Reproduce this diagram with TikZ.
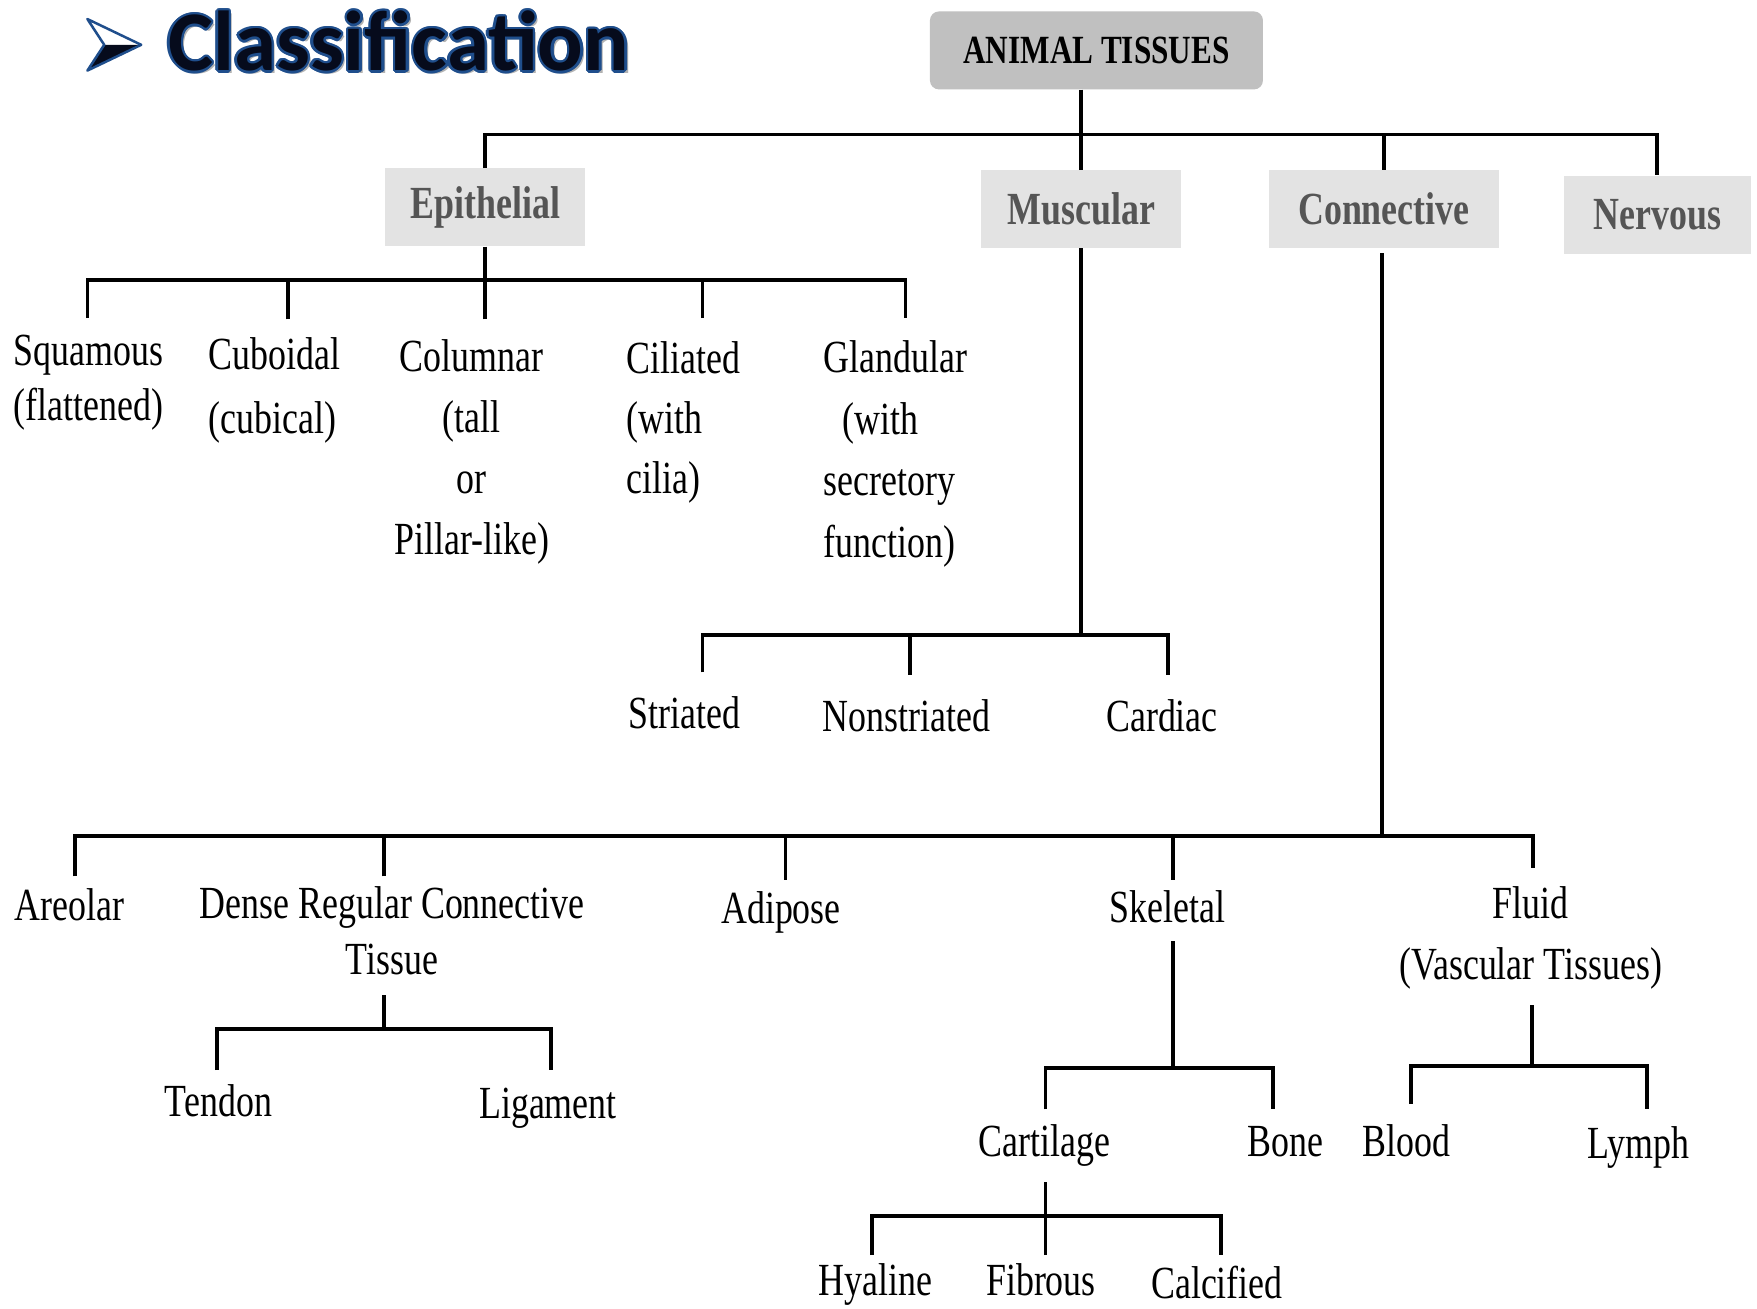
\documentclass[tikz,border=0pt]{standalone}
\usepackage{fontspec}
\newfontfamily\tnr[FakeStretch=0.78]{Liberation Serif}
\newfontfamily\ttlfont{Carlito}
\usetikzlibrary{calc}
\definecolor{boxgray}{HTML}{E3E3E3}
\definecolor{rootgray}{HTML}{C0C0C0}
\definecolor{labgray}{HTML}{555555}
\definecolor{ttlblue}{HTML}{1F4E8C}
\definecolor{ttlfill}{HTML}{060B1C}
\begin{document}
\begin{tikzpicture}[x=1.1205pt,y=-1.1205pt,
  lab/.style={font=\tnr\fontsize{46}{61}\selectfont, inner sep=0pt, anchor=base},
  labl/.style={lab, anchor=base west, align=left},
  catbox/.style={fill=boxgray, minimum width=#1, minimum height=78pt, inner sep=0pt,
    font=\tnr\bfseries\fontsize{46}{55}\selectfont, text=labgray},
  conn/.style={line width=3.8pt, line join=miter},
  ttl/.style={anchor=base west, inner sep=0pt, font=\ttlfont\bfseries\fontsize{85}{90}\selectfont}
  ]
\useasboundingbox (0,0) rectangle (1568,1168);
\fill[white] (0,0) rectangle (1568,1168);

% ---- title ----
\coordinate (tpos) at (150,63);
\node[ttl, text=black!30] at ($(tpos)+(3,3)$) {Classification};
\foreach \a in {0,30,...,330}{
  \node[ttl, text=ttlblue] at ($(tpos)+(\a:2.2)$) {Classification};
}
\node[ttl, text=ttlfill] (title) at (tpos) {Classification};
% arrow bullet
\coordinate (at) at (78,17);
\coordinate (ab) at (78,63);
\coordinate (ap) at (126,40);
\coordinate (an) at (93,40);
\fill[white] (at) -- (ap) -- (an) -- cycle;
\fill[ttlfill] (an) -- (ap) -- (ab) -- cycle;
\draw[ttlblue, line width=2.5pt, line join=round] (at) -- (ap) -- (ab) -- (an) -- cycle;

% ---- boxes ----
\node[fill=rootgray, rounded corners=9pt, minimum width=333pt, minimum height=78pt, inner sep=0pt,
  font=\tnr\bfseries\fontsize{40}{48}\selectfont] (root) at (978.5,45) {ANIMAL TISSUES};
\node[catbox=200pt] (epi) at (433,185) {Epithelial};
\node[catbox=200pt] (mus) at (965,186.5) {Muscular};
\node[catbox=230pt] (con) at (1235,186.5) {Connective};
\node[catbox=187pt] (ner) at (1479,191.5) {Nervous};

% ---- top level connectors ----
\coordinate (j0) at (965,120);
\draw[conn] (root.south -| j0) -- (j0);
\draw[conn] (epi.north) |- (ner.north |- j0) -- (ner.north);
\draw[conn] (mus.north) -- (mus.north |- j0);
\draw[conn] (con.north) -- (con.north |- j0);

% ---- epithelial (base anchor = baseline of last line) ----
\node[labl, font=\tnr\fontsize{46}{55}\selectfont] (sq) at (12,375.6) {Squamous\\(flattened)};
\node[labl, font=\tnr\fontsize{46}{64}\selectfont] (cub) at (186,386.6) {Cuboidal\\(cubical)};
\node[lab, align=center] (col) at (421,494.8) {Columnar\\(tall\\or\\Pillar-like)};
\node[labl, font=\tnr\fontsize{46}{60}\selectfont] (cil) at (559,440.6) {Ciliated\\(with\\cilia)};
\node[labl, font=\tnr\fontsize{46}{61.5}\selectfont] (gla) at (735,497.2) {Glandular\\\hspace*{19pt}(with\\secretory\\function)};
\coordinate (ej) at (433,250);
\coordinate (e1) at (78,284);
\coordinate (e2) at (257,285);
\coordinate (e3) at (433,285);
\coordinate (e4) at (627,284);
\coordinate (e5) at (808,284);
\draw[conn] (epi.south) -- (ej);
\draw[conn] (e1) |- (e5 |- ej) -- (e5);
\foreach \c in {e2,e3,e4} \draw[conn] (\c) -- (\c |- ej);

% ---- muscular ----
\node[lab] (str) at (611,650.5) {Striated};
\node[lab] (nst) at (809,652.5) {Nonstriated};
\node[lab] (car) at (1037,652.5) {Cardiac};
\coordinate (mj) at (965,567);
\coordinate (m1) at (627,600);
\coordinate (m2) at (812,602);
\coordinate (m3) at (1042,602);
\draw[conn] (mus.south) -- (mj);
\draw[conn] (m1) |- (m3 |- mj) -- (m3);
\draw[conn] (m2) -- (m2 |- mj);

% ---- connective ----
\node[lab] (are) at (62,821.5) {Areolar};
\node[lab, align=center, font=\tnr\fontsize{46}{56}\selectfont] (den) at (350,869.5) {Dense Regular Connective\\Tissue};
\node[lab] (adi) at (697,824.5) {Adipose};
\node[lab] (ske) at (1042,823.5) {Skeletal};
\node[lab, align=center, font=\tnr\fontsize{46}{61.5}\selectfont] (flu) at (1366,874.4) {Fluid\\(Vascular Tissues)};
\coordinate (c0) at (1233,226);
\coordinate (cj) at (1233,746);
\coordinate (c1) at (67,782);
\coordinate (c2) at (343,782);
\coordinate (c3) at (701,785);
\coordinate (c4) at (1047,785);
\coordinate (c5) at (1368,775);
\draw[conn] (c0) -- (cj);
\draw[conn] (c1) |- (c5 |- cj) -- (c5);
\foreach \c in {c2,c3,c4} \draw[conn] (\c) -- (\c |- cj);

% ---- dense ----
\node[lab] (ten) at (195,996.5) {Tendon};
\node[lab] (lig) at (489,998.5) {Ligament};
\coordinate (d0) at (343,888);
\coordinate (dj) at (343,918);
\coordinate (d1) at (194,955);
\coordinate (d2) at (492,955);
\draw[conn] (d0) -- (dj);
\draw[conn] (d1) |- (d2 |- dj) -- (d2);

% ---- skeletal ----
\node[lab] (cart) at (932,1032.5) {Cartilage};
\node[lab] (bon) at (1147,1032.5) {Bone};
\coordinate (s0) at (1047,840);
\coordinate (sj) at (1047,953);
\coordinate (s1) at (933,990);
\coordinate (s2) at (1136,990);
\draw[conn] (s0) -- (sj);
\draw[conn] (s1) |- (s2 |- sj) -- (s2);

% ---- fluid ----
\node[lab] (blo) at (1255,1032.5) {Blood};
\node[lab] (lym) at (1462,1033.5) {Lymph};
\coordinate (f0) at (1367,897);
\coordinate (fj) at (1367,951);
\coordinate (f1) at (1259,985);
\coordinate (f2) at (1470,990);
\draw[conn] (f0) -- (fj);
\draw[conn] (f1) |- (f2 |- fj) -- (f2);

% ---- cartilage ----
\node[lab] (hya) at (781,1156.5) {Hyaline};
\node[lab] (fib) at (929,1156.5) {Fibrous};
\node[lab] (cal) at (1086,1159) {Calcified};
\coordinate (k0) at (933,1055);
\coordinate (kj) at (933,1085);
\coordinate (k1) at (778,1120);
\coordinate (k2) at (933,1120);
\coordinate (k3) at (1090,1120);
\draw[conn] (k0) -- (kj);
\draw[conn] (k1) |- (k3 |- kj) -- (k3);
\draw[conn] (k2) -- (k2 |- kj);
\end{tikzpicture}
\end{document}
